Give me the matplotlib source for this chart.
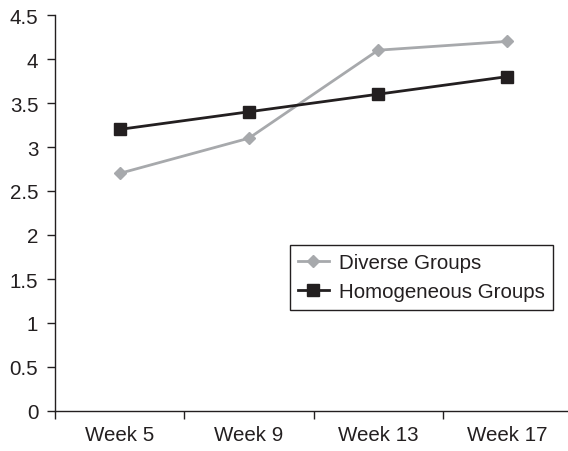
import matplotlib
matplotlib.use("Agg")
import matplotlib.pyplot as plt
from matplotlib.ticker import FixedLocator, MultipleLocator

plt.rcParams['font.family'] = ['Liberation Sans', 'DejaVu Sans']

weeks = ["Week 5", "Week 9", "Week 13", "Week 17"]
diverse = [2.7, 3.1, 4.1, 4.2]
homogeneous = [3.2, 3.4, 3.6, 3.8]

ink = "#231f20"
grey = "#a7a9ac"
fs = 14.8

W, H = 568, 452
fig = plt.figure(figsize=(W / 100, H / 100), dpi=100)
left, right, top, bottom = 55, 567, 16, 412
ax = fig.add_axes([left / W, 1 - bottom / H, (right - left) / W, (bottom - top) / H])

x = list(range(len(weeks)))
ax.plot(x, diverse, color=grey, lw=2.0, marker="D", ms=6.5,
        mfc=grey, mec=grey, label="Diverse Groups")
ax.plot(x, homogeneous, color=ink, lw=2.0, marker="s", ms=8.5,
        mfc=ink, mec=ink, label="Homogeneous Groups")

span = len(weeks)
ax.set_xlim(-0.5, -0.5 + span * (right - left) / 517)
ax.set_ylim(0, 4.5)
ax.yaxis.set_major_locator(MultipleLocator(0.5))
ax.set_yticklabels([("%g" % v) for v in ax.get_yticks()])

ax.set_xticks(x)
ax.set_xticklabels(weeks)
ax.xaxis.set_minor_locator(FixedLocator([i - 0.5 for i in range(span)]))
ax.tick_params(axis="x", which="major", length=0, pad=10, labelsize=fs, labelcolor=ink)
ax.tick_params(axis="x", which="minor", length=6, width=1.0, color=ink, direction="out")
ax.tick_params(axis="y", length=6, width=1.0, color=ink, direction="out", pad=6,
               labelsize=fs, labelcolor=ink)

for s in ("top", "right"):
    ax.spines[s].set_visible(False)
for s in ("left", "bottom"):
    ax.spines[s].set_color(ink)
    ax.spines[s].set_linewidth(1.0)

leg = ax.legend(loc="upper right", bbox_to_anchor=(553 / W, 1 - 246 / H),
                bbox_transform=fig.transFigure, frameon=True, fancybox=False,
                framealpha=1, edgecolor=ink, fontsize=fs, handlelength=1.5,
                handletextpad=0.5, labelspacing=0.5, borderpad=0.4,
                borderaxespad=0)
leg.get_frame().set_linewidth(1.0)
for t in leg.get_texts():
    t.set_color(ink)

fig.savefig("out.png", dpi=100)
